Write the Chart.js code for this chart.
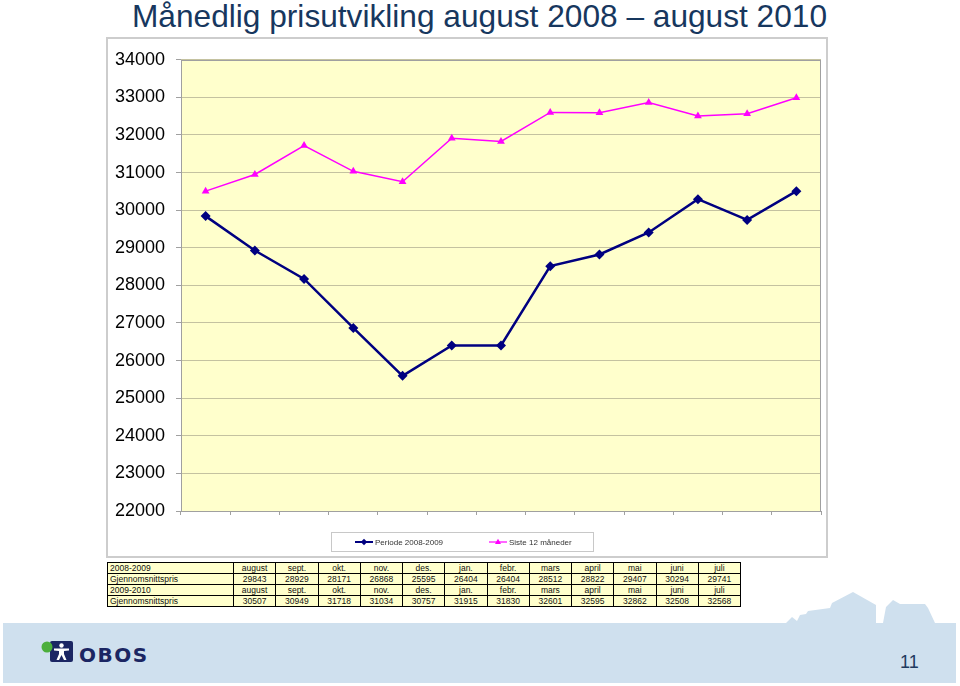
<!DOCTYPE html>
<html>
<head>
<meta charset="utf-8">
<script src="https://cdn.jsdelivr.net/npm/chart.js@4.4.1/dist/chart.umd.min.js"></script>
<style>
html,body{margin:0;padding:0;background:#fff;width:960px;height:686px;overflow:hidden;font-family:"Liberation Sans",Arial,sans-serif;}
#bg{position:absolute;left:0;top:0;}
#title{position:absolute;left:132px;top:0px;font-family:"Liberation Sans Narrow","Liberation Sans",Arial,sans-serif;font-size:32px;line-height:32px;color:#17375e;white-space:nowrap;transform-origin:0 0;}
#frame{position:absolute;left:106px;top:37px;width:718px;height:517px;border:2px solid #cdcdcd;background:#fff;}
#wrap{position:absolute;left:107px;top:38px;width:722px;height:519px;}
#tbl{position:absolute;left:107px;top:562px;border-collapse:collapse;table-layout:fixed;width:634px;font-size:8.5px;color:#111;background:#ffffcc;}
#tbl td{border:1px solid #000;padding:0 2px;height:10px;line-height:10px;text-align:center;white-space:nowrap;overflow:hidden;}
#tbl td.h{text-align:left;}
</style>
</head>
<body>
<svg id="bg" width="960" height="686" xmlns="http://www.w3.org/2000/svg">
  <rect x="3" y="623" width="953" height="60" fill="#cfe0ee"/>
  <polygon fill="#cfe0ee" points="786,623 792,617 797,621 800,615 806,614 808,611 830,608 832,603 853,592 876,605 876,623"/>
  <polygon fill="#cfe0ee" points="883,623 886,607 893,600 900,604 925,604 928,608 935,623"/>
  <path d="M50,643 Q50,641 52,641 L71,641 Q73,641 73,643 L73,660 Q73,662 71,662 L52,662 Q50,662 50,660 Z" fill="#1b2663"/>
  <circle cx="47" cy="647" r="5.5" fill="#4caf3c"/>
  <circle cx="61.5" cy="645.5" r="2.2" fill="#fff"/>
  <path d="M54,648.5 L69,648.5 L69,650.5 L64,651 L64,654 L66.5,660 L64,660 L61.5,655 L59,660 L56.5,660 L59,654 L59,651 L54,650.5 Z" fill="#fff"/>
  <text x="79" y="662" font-family="DejaVu Sans, Verdana, sans-serif" font-weight="bold" font-size="20" letter-spacing="1.5" fill="#1b2663">OBOS</text>
  <text x="900" y="668" font-family="Liberation Sans Narrow, Liberation Sans, Arial, sans-serif" font-size="18" fill="#1f3a5f">11</text>
</svg>
<div id="title">Månedlig prisutvikling august 2008 – august 2010</div>
<div id="frame"></div>
<div id="wrap"><canvas id="c"></canvas></div>
<table id="tbl"></table>
<script>
// ---- data ----
const months = ['august','sept.','okt.','nov.','des.','jan.','febr.','mars','april','mai','juni','juli'];
const xLabels = ['august','sept.','okt.','nov.','des.','jan.','febr.','mars','april','mai','juni','juli','august'];
const periode0809 = [29843, 28929, 28171, 26868, 25595, 26404, 26404, 28512, 28822, 29407, 30294, 29741, 30507];
const siste12 = [30507, 30949, 31718, 31034, 30757, 31915, 31830, 32601, 32595, 32862, 32508, 32568, 32990];
const tablePris0809 = [29843, 28929, 28171, 26868, 25595, 26404, 26404, 28512, 28822, 29407, 30294, 29741];
const tablePris0910 = [30507, 30949, 31718, 31034, 30757, 31915, 31830, 32601, 32595, 32862, 32508, 32568];
const seriesNames = ['Periode 2008-2009', 'Siste 12 måneder'];
const yMin = 22000, yMax = 34000, yStep = 1000;

// title fit
const t = document.getElementById('title');
const tw = t.getBoundingClientRect().width;
t.style.transform = 'scaleX(' + (695 / tw) + ')';

// table
const tbl = document.getElementById('tbl');
const colg = document.createElement('colgroup');
let cg = '<col style="width:126px">';
for (let i = 0; i < months.length; i++) cg += '<col>';
colg.innerHTML = cg;
tbl.appendChild(colg);
function addRow(head, cells) {
  const tr = document.createElement('tr');
  let h = '<td class="h">' + head + '</td>';
  cells.forEach(c => { h += '<td>' + c + '</td>'; });
  tr.innerHTML = h;
  tbl.appendChild(tr);
}
addRow('2008-2009', months);
addRow('Gjennomsnittspris', tablePris0809);
addRow('2009-2010', months);
addRow('Gjennomsnittspris', tablePris0910);

// plugins
const bgPlugin = {
  id: 'plotBg',
  beforeDraw(chart) {
    const {ctx, chartArea: a} = chart;
    ctx.save();
    ctx.fillStyle = '#ffffcc';
    ctx.fillRect(a.left, a.top, a.right - a.left, a.bottom - a.top);
    ctx.restore();
  },
  afterDatasetsDraw(chart) {
    const {ctx, chartArea: a} = chart;
    ctx.save();
    ctx.strokeStyle = '#a0a0a0';
    ctx.lineWidth = 1;
    ctx.strokeRect(Math.round(a.left) + 0.5, Math.round(a.top) + 0.5, Math.round(a.right - a.left) - 1, Math.round(a.bottom - a.top));
    ctx.restore();
  }
};
function marker(ctx, style, x, y, r, color) {
  ctx.fillStyle = color;
  ctx.beginPath();
  if (style === 'rectRot') {
    ctx.moveTo(x, y - r); ctx.lineTo(x + r, y); ctx.lineTo(x, y + r); ctx.lineTo(x - r, y);
  } else {
    ctx.moveTo(x, y - r); ctx.lineTo(x + r * 0.95, y + r * 0.6); ctx.lineTo(x - r * 0.95, y + r * 0.6);
  }
  ctx.closePath();
  ctx.fill();
}
const legendPlugin = {
  id: 'boxLegend',
  afterDraw(chart) {
    const ctx = chart.ctx;
    const bx = 224, by = 494, bw = 262, bh = 19;
    ctx.save();
    ctx.fillStyle = '#fff';
    ctx.fillRect(bx, by, bw, bh);
    ctx.strokeStyle = '#c8c8c8';
    ctx.lineWidth = 1;
    ctx.strokeRect(bx + 0.5, by + 0.5, bw, bh);
    const xs = [248, 382];
    const cy = by + 10;
    chart.data.datasets.forEach((ds, i) => {
      const x = xs[i];
      ctx.strokeStyle = ds.borderColor;
      ctx.lineWidth = i === 0 ? 2 : 1.2;
      ctx.beginPath(); ctx.moveTo(x, cy); ctx.lineTo(x + 18, cy); ctx.stroke();
      marker(ctx, ds.pointStyle, x + 9, cy, 3.2, ds.borderColor);
      ctx.fillStyle = '#333';
      ctx.font = '8px "Liberation Sans", Arial, sans-serif';
      ctx.textBaseline = 'middle';
      ctx.fillText(ds.label, x + 20, cy + 0.5);
    });
    ctx.restore();
  }
};

new Chart(document.getElementById('c'), {
  type: 'line',
  data: {
    labels: xLabels,
    datasets: [
      { label: seriesNames[0], data: periode0809, borderColor: '#000080', backgroundColor: '#000080',
        borderWidth: 2.5, pointStyle: 'rectRot', pointRadius: 5, pointBorderWidth: 0, tension: 0 },
      { label: seriesNames[1], data: siste12, borderColor: '#ff00ff', backgroundColor: '#ff00ff',
        borderWidth: 1.5, pointStyle: 'triangle', pointRadius: 4.5, pointBorderWidth: 0, tension: 0 }
    ]
  },
  options: {
    responsive: true,
    maintainAspectRatio: false,
    animation: false,
    layout: { padding: { top: 20, right: 8, left: 0, bottom: 0 } },
    plugins: { legend: { display: false }, tooltip: { enabled: false } },
    scales: {
      x: {
        offset: true,
        grid: { offset: true, drawOnChartArea: false, drawTicks: true, tickLength: 4, color: '#a0a0a0' },
        border: { display: false },
        ticks: { display: false },
        afterFit(s) { s.height = 46; }
      },
      y: {
        min: yMin, max: yMax,
        ticks: { stepSize: yStep, font: { size: 18, family: '"Liberation Sans", Arial, sans-serif' }, color: '#000', padding: 11,
                 callback: v => String(v) },
        grid: { color: '#c4c2a0', tickColor: '#a0a0a0', tickLength: 5, drawTicks: true },
        border: { display: false },
        afterFit(s) { s.width = 74; }
      }
    }
  },
  plugins: [bgPlugin, legendPlugin]
});
</script>
</body>
</html>
